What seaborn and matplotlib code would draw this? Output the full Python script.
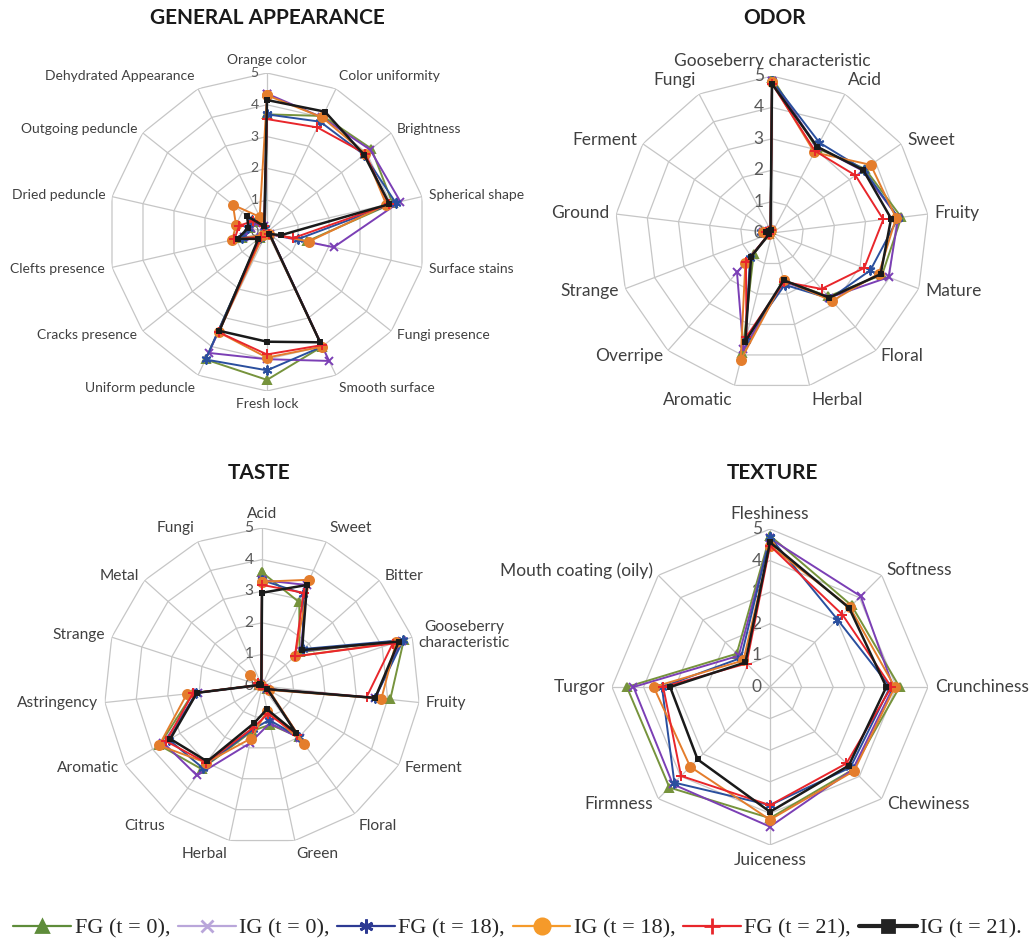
import numpy as np
import pandas as pd
import matplotlib
matplotlib.use('Agg')
import matplotlib.pyplot as plt
from matplotlib.lines import Line2D
import seaborn as sns

sns.set_style('white')
plt.rcParams['font.family'] = ['Lato', 'DejaVu Sans']

# series order: FG t0, IG t0, FG t18, IG t18, FG t21, IG t21
series = ['FG (t = 0)', 'IG (t = 0)', 'FG (t = 18)', 'IG (t = 18)', 'FG (t = 21)', 'IG (t = 21)']

ga_cats = ['Orange color', 'Color uniformity', 'Brightness', 'Spherical shape', 'Surface stains',
           'Fungi presence', 'Smooth surface', 'Fresh lock', 'Uniform peduncle', 'Cracks presence',
           'Clefts presence', 'Dried peduncle', 'Outgoing peduncle', 'Dehydrated Appearance']
ga_fg0 = [3.70, 4.05, 4.20, 4.05, 1.30, 0.10, 4.00, 4.65, 4.45, 0.30, 0.80, 0.55, 0.50, 0.15]
ga_ig0 = [4.35, 4.00, 4.15, 4.30, 2.15, 0.12, 4.50, 4.00, 4.22, 0.25, 0.75, 0.50, 0.45, 0.20]
ga_fg18 = [3.70, 3.85, 3.90, 4.15, 1.00, 0.10, 4.00, 4.35, 4.45, 0.30, 0.80, 0.60, 0.60, 0.15]
ga_ig18 = [4.30, 4.00, 3.95, 3.85, 1.35, 0.08, 4.00, 3.95, 3.50, 0.15, 1.12, 1.00, 1.37, 0.53]
ga_fg21 = [3.55, 3.65, 3.95, 3.92, 0.85, 0.10, 3.95, 3.85, 3.50, 0.25, 1.05, 0.90, 0.55, 0.20]
ga_ig21 = [4.15, 4.20, 3.90, 3.95, 0.45, 0.10, 3.85, 3.45, 3.45, 0.35, 0.95, 0.60, 0.80, 0.20]

odor_cats = ['Gooseberry characteristic', 'Acid', 'Sweet', 'Fruity', 'Mature', 'Floral', 'Herbal',
             'Aromatic', 'Overripe', 'Strange', 'Ground', 'Ferment', 'Fungi']
odor_fg0 = [4.95, 3.05, 3.60, 4.15, 3.75, 2.70, 1.55, 3.95, 0.88, 0.10, 0.25, 0.10, 0.10]
odor_ig0 = [4.85, 3.10, 3.50, 4.05, 3.97, 2.75, 1.60, 3.82, 1.68, 0.10, 0.30, 0.10, 0.10]
odor_fg18 = [4.85, 3.25, 3.55, 4.05, 3.35, 2.79, 1.70, 3.50, 1.06, 0.10, 0.35, 0.10, 0.10]
odor_ig18 = [4.80, 2.90, 3.82, 3.98, 3.64, 2.89, 1.55, 4.17, 1.28, 0.10, 0.30, 0.10, 0.10]
odor_fg21 = [4.75, 2.95, 3.23, 3.57, 3.14, 2.38, 1.60, 3.40, 1.25, 0.10, 0.20, 0.10, 0.10]
odor_ig21 = [4.75, 3.10, 3.53, 3.82, 3.70, 2.75, 1.55, 3.56, 1.00, 0.10, 0.20, 0.10, 0.10]

taste_cats = ['Acid', 'Sweet', 'Bitter', 'Gooseberry\ncharacteristic', 'Fruity', 'Ferment', 'Floral',
              'Green', 'Herbal', 'Citrus', 'Aromatic', 'Astringency', 'Strange', 'Metal', 'Fungi']
taste_fg0 = [3.60, 2.90, 1.60, 4.72, 4.08, 0.20, 2.00, 1.25, 1.45, 3.25, 3.75, 2.20, 0.10, 0.10, 0.05]
taste_ig0 = [3.35, 3.50, 1.65, 4.65, 3.60, 0.20, 2.05, 1.20, 1.85, 3.50, 3.60, 2.05, 0.10, 0.10, 0.05]
taste_fg18 = [3.35, 3.20, 1.75, 4.70, 3.60, 0.20, 2.00, 1.10, 1.40, 3.20, 3.40, 2.10, 0.10, 0.10, 0.05]
taste_ig18 = [3.30, 3.68, 1.40, 4.46, 3.80, 0.25, 2.25, 0.80, 1.70, 3.00, 3.76, 2.39, 0.10, 0.50, 0.05]
taste_fg21 = [3.20, 3.23, 1.40, 4.35, 3.33, 0.20, 1.90, 0.90, 1.35, 3.00, 3.50, 2.20, 0.10, 0.15, 0.05]
taste_ig21 = [2.95, 3.50, 1.70, 4.55, 3.60, 0.20, 1.85, 0.75, 1.20, 2.95, 3.35, 2.07, 0.10, 0.10, 0.05]

tex_cats = ['Fleshiness', 'Softness', 'Crunchiness', 'Chewiness', 'Juiceness', 'Firmness', 'Turgor',
            'Mouth coating (oily)']
tex_fg0 = [4.79, 3.65, 4.10, 3.70, 4.15, 4.50, 4.53, 1.49]
tex_ig0 = [4.70, 4.06, 3.90, 3.70, 4.42, 4.35, 4.32, 1.40]
tex_fg18 = [4.74, 3.02, 3.80, 3.60, 3.74, 4.28, 3.42, 1.30]
tex_ig18 = [4.47, 3.57, 3.95, 3.76, 4.20, 3.57, 3.68, 1.19]
tex_fg21 = [4.47, 3.24, 3.84, 3.42, 3.74, 3.98, 3.38, 1.05]
tex_ig21 = [4.58, 3.54, 3.68, 3.52, 3.95, 3.24, 3.16, 1.10]

# look of each series
colors = ['#76933C', '#7B3FB5', '#2A4F9E', '#E47D2C', '#E8262B', '#1A1A1A']
markers = ['^', 'x', (6, 2, 0), 'o', '+', 's']
msizes = [6, 6, 7, 6.5, 7, 3]
lwidths = [1.4, 1.4, 1.4, 1.4, 1.4, 1.8]

W, H = 1035, 943
fig = plt.figure(figsize=(W / 100, H / 100), dpi=100)


def radar(cx, cy, r, cats, table, fs_lab):
    ax = fig.add_axes([(cx - r) / W, (H - cy - r) / H, 2 * r / W, 2 * r / H], projection='polar')
    n = len(cats)
    th = np.linspace(0, 2 * np.pi, n, endpoint=False)
    closed = np.append(th, 2 * np.pi)
    ax.set_theta_zero_location('N')
    ax.set_theta_direction(-1)
    ax.grid(False)
    ax.spines['polar'].set_visible(False)
    ax.set_xticks([])
    ax.set_yticks([])
    ax.patch.set_alpha(0)
    # polygon web
    for k in range(1, 6):
        ax.plot(closed, [k] * (n + 1), color='#c6c6c6', lw=0.9, zorder=1)
    for t in th:
        ax.plot([t, t], [0, 5], color='#c6c6c6', lw=0.9, zorder=1)
    for k in range(6):
        ax.annotate(str(k), xy=(0, k), xytext=(-6, 0), textcoords='offset points',
                    ha='right', va='center', fontsize=fs_lab, color='#595959')
    for i, name in enumerate(series):
        df = pd.DataFrame({'theta': closed, 'score': table[i] + table[i][:1]})
        sns.lineplot(data=df, x='theta', y='score', ax=ax, sort=False, errorbar=None,
                     color=colors[i], lw=lwidths[i], marker=markers[i], markersize=msizes[i],
                     markeredgecolor=colors[i], markeredgewidth=1.4, zorder=3 + i)
    ax.set_ylim(0, 5)
    ax.set_xlabel('')
    ax.set_ylabel('')
    for t, c in zip(th, cats):
        s, co = np.sin(t), np.cos(t)
        ha = 'center' if abs(s) < 0.15 else ('left' if s > 0 else 'right')
        va = 'bottom' if co > 0.8 else ('top' if co < -0.8 else 'center')
        ax.annotate(c, xy=(t, 5), xytext=(5 * s, 5 * co), textcoords='offset points',
                    ha=ha, va=va, fontsize=fs_lab, color='#404040', multialignment='center')
    return ax


radar(267, 232, 159, ga_cats, [ga_fg0, ga_ig0, ga_fg18, ga_ig18, ga_fg21, ga_ig21], 10)
radar(772, 233, 157, odor_cats, [odor_fg0, odor_ig0, odor_fg18, odor_ig18, odor_fg21, odor_ig21], 12.5)
radar(262, 686, 158, taste_cats, [taste_fg0, taste_ig0, taste_fg18, taste_ig18, taste_fg21, taste_ig21], 11.2)
radar(770, 687, 158, tex_cats, [tex_fg0, tex_ig0, tex_fg18, tex_ig18, tex_fg21, tex_ig21], 12.5)

for txt, x, y in [('GENERAL APPEARANCE', 267, 18), ('ODOR', 775, 18), ('TASTE', 259, 473), ('TEXTURE', 772, 473)]:
    fig.text(x / W, 1 - y / H, txt, ha='center', va='center', fontsize=15, fontweight='bold', color='#1a1a1a')

# legend along the bottom
leg_colors = ['#5E8C3A', '#B9A6DA', '#2D3A93', '#F59A2A', '#E8262B', '#222222']
handles = []
for i in range(6):
    handles.append(Line2D([], [], color=leg_colors[i], lw=3 if i == 5 else 1.6, marker=markers[i],
                          markersize=[8, 9, 10, 11, 11, 8][i], markeredgewidth=2.0,
                          markerfacecolor=leg_colors[i], markeredgecolor=leg_colors[i]))
labels = [s + (',' if i < 5 else '.') for i, s in enumerate(series)]
fig.legend(handles, labels, loc='center', bbox_to_anchor=(0.5, 1 - 928 / H), ncol=6, frameon=False,
           prop={'family': 'Liberation Serif', 'size': 16}, handlelength=2.6, handletextpad=0.15,
           columnspacing=0.35, numpoints=1)

fig.savefig('out.png', dpi=100)
